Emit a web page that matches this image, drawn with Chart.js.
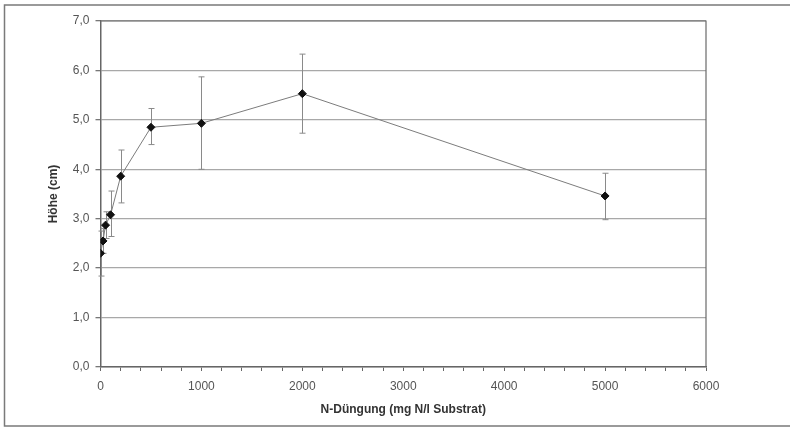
<!DOCTYPE html>
<html>
<head>
<meta charset="utf-8">
<script src="https://cdn.jsdelivr.net/npm/chart.js@4/dist/chart.umd.min.js"></script>
<style>
  html, body { margin: 0; padding: 0; background: #fff; }
  #wrap { width: 790px; height: 428px; position: relative; }
</style>
</head>
<body>
<div id="wrap"><canvas id="chart"></canvas></div>
<script>
// N-Düngung (mg N/l Substrat) und mittlere Höhe mit Streuung
const duengung = [0, 25, 50, 100, 200, 500, 1000, 2000, 5000];
const hoehe    = [2.30, 2.55, 2.87, 3.08, 3.86, 4.85, 4.93, 5.53, 3.46];
const oben     = [2.75, 2.80, 3.14, 3.56, 4.39, 5.23, 5.87, 6.33, 3.92];
const unten    = [1.84, 2.30, 2.60, 2.64, 3.32, 4.50, 4.00, 4.73, 2.98];

const FONT = "'Liberation Sans', Arial, sans-serif";

// Fehlerbalken unter den Markern zeichnen
const errorBars = {
    id: 'errorBars',
    beforeDatasetsDraw(chart) {
        const { ctx, scales: { x, y } } = chart;
        ctx.save();
        ctx.strokeStyle = '#8a8a8a';
        ctx.lineWidth = 1;
        duengung.forEach((d, i) => {
            const px = Math.round(x.getPixelForValue(d)) + 0.5;
            const yTop = y.getPixelForValue(oben[i]);
            const yBot = y.getPixelForValue(unten[i]);
            ctx.beginPath();
            ctx.moveTo(px, yTop); ctx.lineTo(px, yBot);
            ctx.moveTo(px - 3, yTop); ctx.lineTo(px + 3, yTop);
            ctx.moveTo(px - 3, yBot); ctx.lineTo(px + 3, yBot);
            ctx.stroke();
        });
        ctx.restore();
    }
};

// Rahmen um Diagramm und Plotfläche
const frames = {
    id: 'frames',
    beforeDraw(chart) {
        const { ctx } = chart;
        ctx.save();
        ctx.strokeStyle = '#7a7a7a';
        ctx.lineWidth = 1.5;
        ctx.beginPath();
        ctx.moveTo(800, 5); ctx.lineTo(4.5, 5); ctx.lineTo(4.5, 426); ctx.lineTo(800, 426);
        ctx.stroke();
        ctx.restore();
    },
    afterDatasetsDraw(chart) {
        const { ctx, chartArea: a } = chart;
        ctx.save();
        ctx.strokeStyle = '#6a6a6a';
        ctx.lineWidth = 1.2;
        ctx.beginPath();
        ctx.moveTo(a.left, a.top); ctx.lineTo(a.right, a.top); ctx.lineTo(a.right, a.bottom);
        ctx.stroke();
        ctx.restore();
    }
};

new Chart(document.getElementById('chart'), {
    type: 'scatter',
    data: {
        datasets: [{
            label: 'Höhe',
            data: duengung.map((d, i) => ({ x: d, y: hoehe[i] })),
            showLine: true,
            borderColor: '#7c7c7c',
            borderWidth: 1,
            pointStyle: 'rectRot',
            pointRadius: 4,
            pointBackgroundColor: '#111',
            pointBorderColor: '#111',
            pointBorderWidth: 1
        }]
    },
    options: {
        responsive: true,
        maintainAspectRatio: false,
        animation: false,
        layout: { padding: { left: 5, top: 21, right: 84, bottom: 0 } },
        plugins: { legend: { display: false }, tooltip: { enabled: false } },
        scales: {
            x: {
                type: 'linear',
                min: 0,
                max: 6000,
                afterFit: s => { s.height = 61; },
                grid: { drawOnChartArea: false, tickLength: 4, color: '#666' },
                border: { color: '#666', width: 1.5 },
                ticks: {
                    stepSize: 200,
                    autoSkip: false,
                    maxRotation: 0,
                    padding: 8,
                    color: '#555',
                    font: { family: FONT, size: 12 },
                    callback: v => (v % 1000 === 0 ? String(v) : '')
                },
                title: {
                    display: true,
                    text: 'N-Düngung (mg N/l Substrat)',
                    color: '#333',
                    font: { family: FONT, size: 12, weight: 'bold' },
                    padding: { bottom: 11 }
                }
            },
            y: {
                min: 0,
                max: 7,
                afterFit: s => { s.width = 95.5; },
                grid: { color: '#a8a8a8', lineWidth: 1.3, tickLength: 5, tickColor: '#777' },
                border: { color: '#666', width: 1.5 },
                ticks: {
                    stepSize: 1,
                    padding: 6,
                    color: '#555',
                    font: { family: FONT, size: 12 },
                    callback: v => v.toFixed(1).replace('.', ',')
                },
                title: {
                    display: true,
                    text: 'Höhe (cm)',
                    color: '#333',
                    font: { family: FONT, size: 12, weight: 'bold' },
                    padding: { top: 41 }
                }
            }
        }
    },
    plugins: [errorBars, frames]
});
</script>
</body>
</html>
